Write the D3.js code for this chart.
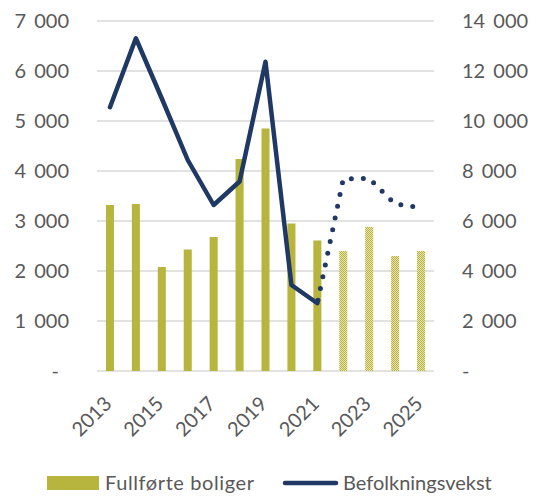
<!DOCTYPE html>
<html>
<head>
<meta charset="utf-8">
<script src="https://cdn.jsdelivr.net/npm/d3@7"></script>
<style>
  body { margin: 0; background: #fff; }
  text { font-family: Lato, "Open Sans", sans-serif; fill: #595959; }
</style>
</head>
<body>
<script>
// Chart data
var years = [2013, 2014, 2015, 2016, 2017, 2018, 2019, 2020, 2021, 2022, 2023, 2024, 2025];
var boliger = [3320, 3340, 2080, 2430, 2680, 4240, 4850, 2950, 2610, 2400, 2880, 2300, 2400];
var vekst = [10550, 13310, 10900, 8440, 6640, 7580, 12370, 3440, 2710, 7680, 7700, 6680, 6540];
var lastActual = 2021;
var leftTicks = [0, 1000, 2000, 3000, 4000, 5000, 6000, 7000];
var rightTicks = [0, 2000, 4000, 6000, 8000, 10000, 12000, 14000];
var labelYears = [2013, 2015, 2017, 2019, 2021, 2023, 2025];

var width = 538,
    height = 498;

var olive = "#b8b53e",
    navy = "#1f3864";

var svg = d3.select("body")
  .append("svg")
  .attr("width", width)
  .attr("height", height);

// pattern for the forecast bars
var defs = svg.append("defs");
var pat = defs.append("pattern")
  .attr("id", "checks")
  .attr("patternUnits", "userSpaceOnUse")
  .attr("width", 2)
  .attr("height", 2);
pat.append("rect").attr("width", 2).attr("height", 2).attr("fill", "#e6e4b0");
pat.append("rect").attr("width", 1).attr("height", 1).attr("fill", olive);
pat.append("rect").attr("x", 1).attr("y", 1).attr("width", 1).attr("height", 1).attr("fill", olive);

var x = d3.scaleBand()
  .domain(years)
  .range([97, 434])
  .paddingInner(0.69)
  .paddingOuter(0.345);

var yL = d3.scaleLinear().domain([0, 7000]).range([371, 21]);
var yR = d3.scaleLinear().domain([0, 14000]).range([371, 21]);

var fmt = function(d) { return d3.format(",")(d).replace(",", " "); };

// gridlines
svg.append("g").selectAll("line")
  .data(leftTicks)
  .join("line")
  .attr("x1", 97).attr("x2", 434)
  .attr("y1", d => yL(d)).attr("y2", d => yL(d))
  .attr("stroke", "#d9d9d9")
  .attr("stroke-width", 1.5);

// left axis labels
svg.append("g").selectAll("text")
  .data(leftTicks)
  .join("text")
  .attr("x", d => d === 0 ? 59 : 69)
  .attr("y", d => yL(d))
  .attr("dy", "0.35em")
  .attr("text-anchor", "end")
  .style("font-size", "20px")
  .style("word-spacing", "3px")
  .text(d => d === 0 ? "-" : fmt(d));

// right axis labels
svg.append("g").selectAll("text")
  .data(rightTicks)
  .join("text")
  .attr("x", 462)
  .attr("y", d => yR(d))
  .attr("dy", "0.35em")
  .attr("text-anchor", "start")
  .style("font-size", "20px")
  .style("word-spacing", "3px")
  .text(d => d === 0 ? "-" : fmt(d));

// bars
svg.append("g").selectAll("rect")
  .data(years)
  .join("rect")
  .attr("x", d => x(d))
  .attr("width", x.bandwidth())
  .attr("y", (d, i) => yL(boliger[i]))
  .attr("height", (d, i) => yL(0) - yL(boliger[i]))
  .attr("fill", d => d > lastActual ? "url(#checks)" : olive);

// line, solid up to last actual year then dotted
var pts = years.map((d, i) => [x(d) + x.bandwidth() / 2, yR(vekst[i])]);
var line = d3.line();
var cut = years.indexOf(lastActual);

svg.append("path")
  .attr("d", line(pts.slice(0, cut + 1)))
  .attr("fill", "none")
  .attr("stroke", navy)
  .attr("stroke-width", 4.5)
  .attr("stroke-linejoin", "round")
  .attr("stroke-linecap", "round");

svg.append("path")
  .attr("d", line(pts.slice(cut)))
  .attr("fill", "none")
  .attr("stroke", navy)
  .attr("stroke-width", 5)
  .attr("stroke-dasharray", "0 12")
  .attr("stroke-dashoffset", -3)
  .attr("stroke-linecap", "round");

// x labels
svg.append("g").selectAll("text")
  .data(labelYears)
  .join("text")
  .attr("transform", d => "translate(" + (x(d) + x.bandwidth() / 2 + 3) + ",405) rotate(-45)")
  .attr("text-anchor", "end")
  .style("font-size", "20px")
  .text(d => d);

// legend
var legend = svg.append("g");
legend.append("rect")
  .attr("x", 47).attr("y", 476)
  .attr("width", 52).attr("height", 14)
  .attr("fill", olive);
legend.append("text")
  .attr("x", 105).attr("y", 483)
  .attr("dy", "0.35em")
  .style("font-size", "20px")
  .style("letter-spacing", "0.6px")
  .text("Fullførte boliger");
legend.append("line")
  .attr("x1", 285).attr("x2", 336)
  .attr("y1", 483).attr("y2", 483)
  .attr("stroke", navy)
  .attr("stroke-width", 4.5)
  .attr("stroke-linecap", "round");
legend.append("text")
  .attr("x", 343).attr("y", 483)
  .attr("dy", "0.35em")
  .style("font-size", "20px")
  .text("Befolkningsvekst");
</script>
</body>
</html>
